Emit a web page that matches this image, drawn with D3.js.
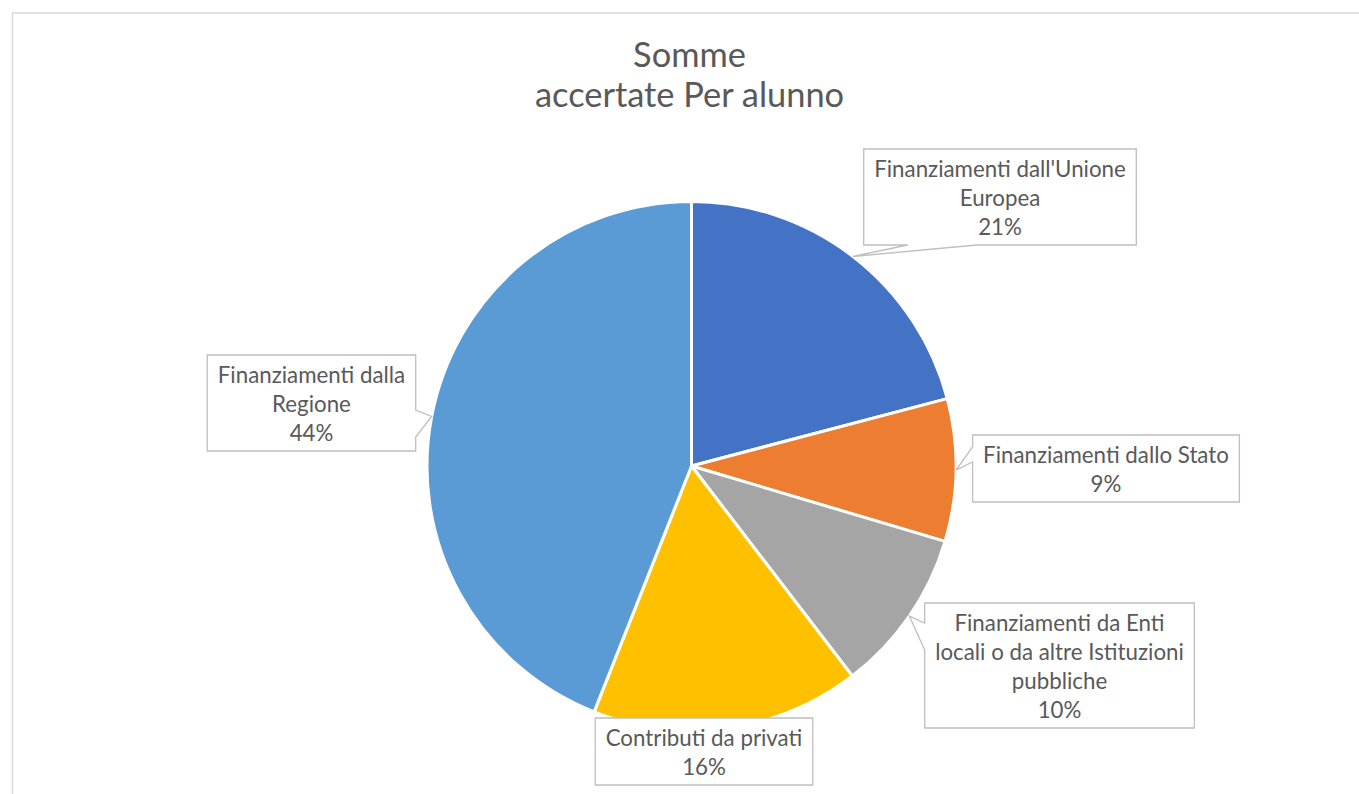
<!DOCTYPE html>
<html><head><meta charset="utf-8">
<script src="https://cdn.jsdelivr.net/npm/d3@7"></script>
<style>body{margin:0;background:#fff;} svg{display:block;}</style>
</head><body>
<svg id="c" width="1359" height="794"></svg>
<script>
// ---- data ----
const titleLines = ["Somme", "accertate Per alunno"];
const categories = [
  "Finanziamenti dall'Unione Europea",
  "Finanziamenti dallo Stato",
  "Finanziamenti da Enti locali o da altre Istituzioni pubbliche",
  "Contributi da privati",
  "Finanziamenti dalla Regione"
];
const values = [20.9, 8.7, 10.0, 16.4, 44.0];
const colors = ["#4472C4", "#ED7D31", "#A5A5A5", "#FFC000", "#5B9BD5"];

// ---- layout ----
const W = 1359, H = 794;
const cx = 691.5, cy = 466, R = 264.5;
const FONT = "Lato, 'Open Sans', sans-serif";
const labelFont = 22.3, titleFont = 34.4, lineH = 29, padX = 10.5, padY = 4.5, firstBase = 27.5;
const labelLayout = [
  {cx: 1000,   top: 149, breaks: [2],    side: "bottom", b: [44, 113]},
  {cx: 1106,   top: 435, breaks: [],     side: "left",   b: [12, 27]},
  {cx: 1059.5, top: 603, breaks: [3, 8], side: "left",   b: [20, 47]},
  {cx: 704,    top: 718, breaks: [],     side: null,     b: null},
  {cx: 311.5,  top: 355, breaks: [2],    side: "right",  b: [55, 82]}
];

const svg = d3.select("#c");
svg.append("rect").attr("x", 12.5).attr("y", 13).attr("width", 1360).attr("height", 800)
  .attr("fill", "#fff").attr("stroke", "#d9d9d9").attr("stroke-width", 1.5);

// title
svg.append("g").selectAll("text").data(titleLines).join("text")
  .attr("x", 689.5).attr("y", (d, i) => 67 + i * 39.5)
  .attr("text-anchor", "middle").attr("font-family", FONT).attr("font-size", titleFont)
  .attr("fill", "#595959").text(d => d);

// pie
const total = d3.sum(values);
const pie = d3.pie().sort(null).value(d => d)(values);
const arc = d3.arc().innerRadius(0).outerRadius(R);
const edgeArc = d3.arc().innerRadius(R).outerRadius(R);
const g = svg.append("g").attr("transform", `translate(${cx},${cy})`);
g.selectAll("path").data(pie).join("path")
  .attr("d", arc).attr("fill", (d, i) => colors[i])
  .attr("stroke", "#fff").attr("stroke-width", 3).attr("stroke-linejoin", "round");

// measuring helper
const meas = svg.append("text").attr("font-family", FONT).attr("font-size", labelFont).attr("visibility", "hidden");
function tw(s) { meas.text(s); return meas.node().getComputedTextLength(); }
function splitLines(text, breaks) {
  const words = text.split(" "); const lines = []; let s = 0;
  breaks.concat([words.length]).forEach(e => { lines.push(words.slice(s, e).join(" ")); s = e; });
  return lines;
}
function calloutPath(x, y, w, h, side, b, tip) {
  const p = [[x, y]];
  if (side === "top") p.push([x + b[0], y], tip, [x + b[1], y]);
  p.push([x + w, y]);
  if (side === "right") p.push([x + w, y + b[0]], tip, [x + w, y + b[1]]);
  p.push([x + w, y + h]);
  if (side === "bottom") p.push([x + b[1], y + h], tip, [x + b[0], y + h]);
  p.push([x, y + h]);
  if (side === "left") p.push([x, y + b[1]], tip, [x, y + b[0]]);
  return "M" + p.map(q => q.join(",")).join("L") + "Z";
}

const lg = svg.append("g");
pie.forEach((d, i) => {
  const L = labelLayout[i];
  const pct = Math.round(values[i] / total * 100) + "%";
  const lines = splitLines(categories[i], L.breaks).concat([pct]);
  const w = d3.max(lines, tw) + 2 * padX;
  const h = lines.length * lineH + 2 * padY;
  const x = L.cx - w / 2, y = L.top;
  const c = edgeArc.centroid(d);
  const tip = [cx + c[0], cy + c[1]];
  lg.append("path").attr("d", calloutPath(x, y, w, h, L.side, L.b, tip))
    .attr("fill", "#fff").attr("stroke", "#bfbfbf").attr("stroke-width", 1.3);
  lg.append("g").selectAll("text").data(lines).join("text")
    .attr("x", L.cx).attr("y", (s, k) => y + firstBase + k * lineH)
    .attr("text-anchor", "middle").attr("font-family", FONT).attr("font-size", labelFont)
    .attr("fill", "#595959").text(s => s);
});
meas.remove();
</script>
</body></html>
